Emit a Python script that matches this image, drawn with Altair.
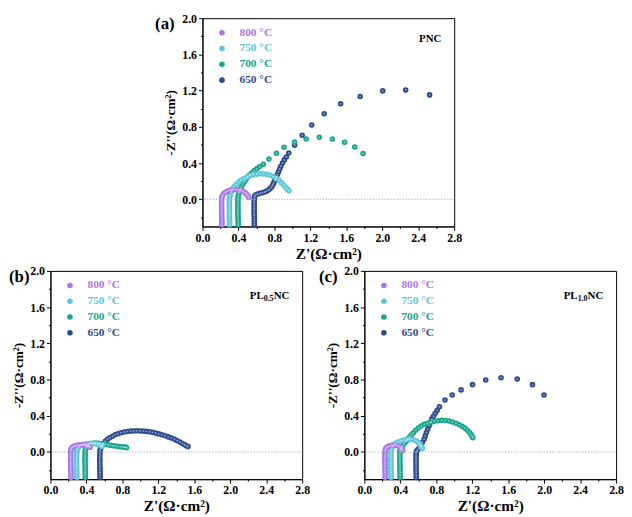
import altair as alt
import pandas as pd

FONT = "Liberation Serif"
TEMPS = ["800 °C", "750 °C", "700 °C", "650 °C"]
COLORS = ["#a878e8", "#5cc6d8", "#17a58c", "#2d4a8f"]

X_TICKS = [0.0, 0.2, 0.4, 0.6, 0.8, 1.0, 1.2, 1.4, 1.6, 1.8, 2.0, 2.2, 2.4, 2.6, 2.8]
Y_TICKS = [-0.2, 0.0, 0.2, 0.4, 0.6, 0.8, 1.0, 1.2, 1.4, 1.6, 1.8, 2.0]

TAIL_Y = [-0.28, -0.255, -0.23, -0.205, -0.18, -0.155, -0.13, -0.105, -0.08, -0.055, -0.03, -0.005]

# ---------------- panel (a) PNC ----------------
a800_x = [0.216, 0.216, 0.215, 0.215, 0.214, 0.214, 0.213, 0.213, 0.213, 0.213, 0.213, 0.213,
          0.215, 0.222, 0.235, 0.252, 0.272, 0.295, 0.32, 0.345, 0.37, 0.395, 0.42, 0.443, 0.463, 0.48, 0.495, 0.507, 0.515]
a800_y = TAIL_Y + [0.02, 0.04, 0.06, 0.075, 0.087, 0.096, 0.102, 0.106, 0.107, 0.105, 0.1, 0.092, 0.081, 0.068, 0.053, 0.037, 0.02]

a750_x = [0.302, 0.302, 0.301, 0.301, 0.3, 0.3, 0.3, 0.299, 0.299, 0.299, 0.299, 0.3,
          0.302, 0.308, 0.318, 0.332, 0.35, 0.372, 0.398, 0.428, 0.46, 0.495, 0.53, 0.567, 0.605, 0.643, 0.68,
          0.718, 0.755, 0.79, 0.822, 0.852, 0.878, 0.902, 0.925, 0.945, 0.962]
a750_y = TAIL_Y + [0.02, 0.048, 0.078, 0.108, 0.137, 0.163, 0.188, 0.21, 0.23, 0.247, 0.261, 0.271, 0.278, 0.281, 0.28,
                   0.275, 0.265, 0.25, 0.231, 0.208, 0.183, 0.158, 0.134, 0.112, 0.094]

a700_x = [0.398, 0.397, 0.397, 0.396, 0.396, 0.395, 0.395, 0.395, 0.394, 0.394, 0.394, 0.395,
          0.396, 0.4, 0.406, 0.414, 0.424, 0.436, 0.45, 0.466, 0.484, 0.504, 0.526, 0.55, 0.575, 0.602, 0.635,
          0.676, 0.739, 0.823, 0.907, 1.024, 1.153, 1.30, 1.445, 1.58, 1.694, 1.786]
a700_y = TAIL_Y + [0.02, 0.045, 0.07, 0.095, 0.12, 0.145, 0.17, 0.195, 0.22, 0.245, 0.27, 0.293, 0.315, 0.337, 0.36,
                   0.388, 0.444, 0.509, 0.574, 0.632, 0.665, 0.684, 0.665, 0.629, 0.578, 0.505]

a650_x = [0.577, 0.577, 0.576, 0.576, 0.576, 0.575, 0.575, 0.575, 0.575, 0.575, 0.575, 0.576,
          0.577, 0.582, 0.595, 0.615, 0.64, 0.665, 0.69, 0.713, 0.735, 0.752, 0.768, 0.78, 0.79, 0.8, 0.81,
          0.822, 0.834, 0.846, 0.858, 0.872, 0.89, 0.91, 0.933, 0.96, 1.025, 1.109, 1.215, 1.354, 1.537, 1.754,
          2.005, 2.26, 2.526]
a650_y = TAIL_Y + [0.018, 0.036, 0.05, 0.058, 0.066, 0.073, 0.08, 0.09, 0.103, 0.118, 0.135, 0.155, 0.175, 0.198, 0.222,
                   0.248, 0.275, 0.305, 0.335, 0.365, 0.4, 0.435, 0.468, 0.512, 0.598, 0.707, 0.82, 0.944, 1.055, 1.136,
                   1.197, 1.206, 1.153]

# ---------------- panel (b) PL0.5NC ----------------
b800_x = [0.228, 0.228, 0.227, 0.227, 0.226, 0.226, 0.225, 0.225, 0.225, 0.225, 0.225, 0.225,
          0.226, 0.232, 0.243, 0.258, 0.276, 0.296, 0.318, 0.34, 0.362, 0.384, 0.404, 0.42, 0.433, 0.442]
b800_y = TAIL_Y + [0.02, 0.038, 0.052, 0.062, 0.07, 0.075, 0.079, 0.081, 0.081, 0.078, 0.073, 0.066, 0.058, 0.05]

b750_x = [0.293, 0.293, 0.292, 0.292, 0.292, 0.291, 0.291, 0.291, 0.291, 0.291, 0.291, 0.292,
          0.293, 0.3, 0.312, 0.328, 0.348, 0.37, 0.394, 0.42, 0.446, 0.472, 0.498, 0.522, 0.544, 0.562, 0.576]
b750_y = TAIL_Y + [0.02, 0.04, 0.056, 0.068, 0.077, 0.083, 0.088, 0.091, 0.093, 0.093, 0.091, 0.087, 0.08, 0.071, 0.062]

b700_x = [0.388, 0.388, 0.387, 0.387, 0.386, 0.386, 0.385, 0.385, 0.385, 0.385, 0.385, 0.386,
          0.387, 0.392, 0.401, 0.414, 0.43, 0.45, 0.474, 0.5, 0.528, 0.556, 0.584, 0.612, 0.64, 0.668, 0.696,
          0.724, 0.752, 0.78, 0.806, 0.826, 0.84, 0.846]
b700_y = TAIL_Y + [0.02, 0.042, 0.06, 0.075, 0.086, 0.093, 0.097, 0.098, 0.097, 0.094, 0.09, 0.085, 0.08, 0.075, 0.07,
                   0.066, 0.062, 0.059, 0.056, 0.054, 0.052, 0.048]

b650_x = [0.552, 0.552, 0.551, 0.551, 0.55, 0.55, 0.549, 0.549, 0.549, 0.549, 0.549, 0.55,
          0.552, 0.56, 0.572, 0.59, 0.61, 0.635, 0.66, 0.69, 0.72, 0.75, 0.785, 0.82, 0.855, 0.89, 0.925,
          0.96, 0.995, 1.03, 1.065, 1.10, 1.135, 1.17, 1.205, 1.24, 1.275, 1.31, 1.345, 1.38, 1.41, 1.44,
          1.465, 1.49, 1.51, 1.53]
b650_y = TAIL_Y + [0.02, 0.045, 0.07, 0.095, 0.118, 0.14, 0.158, 0.175, 0.19, 0.202, 0.213, 0.221, 0.227, 0.231, 0.233,
                   0.234, 0.233, 0.231, 0.228, 0.223, 0.217, 0.209, 0.2, 0.19, 0.179, 0.167, 0.154, 0.14, 0.125, 0.11,
                   0.095, 0.082, 0.07, 0.06]

# ---------------- panel (c) PL1.0NC ----------------
c800_x = [0.232, 0.232, 0.231, 0.231, 0.23, 0.23, 0.229, 0.229, 0.229, 0.229, 0.229, 0.23,
          0.231, 0.238, 0.25, 0.266, 0.285, 0.306, 0.328, 0.35, 0.372, 0.392, 0.408, 0.42, 0.428]
c800_y = TAIL_Y + [0.02, 0.038, 0.053, 0.063, 0.07, 0.074, 0.075, 0.074, 0.069, 0.06, 0.047, 0.032, 0.016]

c750_x = [0.297, 0.297, 0.296, 0.296, 0.296, 0.295, 0.295, 0.295, 0.295, 0.295, 0.295, 0.296,
          0.297, 0.305, 0.318, 0.335, 0.355, 0.38, 0.41, 0.44, 0.47, 0.50, 0.53, 0.56, 0.585, 0.605, 0.62, 0.635, 0.645]
c750_y = TAIL_Y + [0.02, 0.045, 0.065, 0.085, 0.1, 0.113, 0.125, 0.133, 0.138, 0.14, 0.138, 0.13, 0.118, 0.1, 0.08, 0.06, 0.04]

c700_x = [0.398, 0.398, 0.397, 0.397, 0.396, 0.396, 0.395, 0.395, 0.395, 0.395, 0.395, 0.396,
          0.397, 0.405, 0.418, 0.432, 0.447, 0.465, 0.485, 0.505, 0.525, 0.545, 0.57, 0.60, 0.63, 0.665, 0.70,
          0.74, 0.78, 0.82, 0.86, 0.90, 0.94, 0.98, 1.02, 1.055, 1.09, 1.12, 1.145, 1.168, 1.185, 1.198, 1.205]
c700_y = TAIL_Y + [0.02, 0.04, 0.06, 0.08, 0.1, 0.12, 0.145, 0.168, 0.19, 0.213, 0.24, 0.265, 0.288, 0.305, 0.318,
                   0.33, 0.34, 0.346, 0.35, 0.348, 0.342, 0.332, 0.318, 0.302, 0.282, 0.262, 0.24, 0.218, 0.195, 0.175,
                   0.158]

c650_x = [0.577, 0.577, 0.576, 0.576, 0.576, 0.575, 0.575, 0.575, 0.575, 0.575, 0.575, 0.576,
          0.58, 0.593, 0.61, 0.628, 0.645, 0.665, 0.677, 0.69, 0.705, 0.72, 0.735, 0.75, 0.768, 0.787, 0.81,
          0.835, 0.897, 0.977, 1.076, 1.203, 1.35, 1.52, 1.70, 1.87, 1.998]
c650_y = TAIL_Y + [0.01, 0.025, 0.045, 0.07, 0.105, 0.14, 0.178, 0.215, 0.252, 0.29, 0.327, 0.363, 0.395, 0.425, 0.46,
                   0.5, 0.575, 0.63, 0.686, 0.744, 0.796, 0.82, 0.805, 0.744, 0.63]

W, H = 255, 211

MINOR = "abs(round(datum.value * 10)) % 4 != 0"
LABEL_EXPR = "abs(round(datum.value * 10)) % 4 == 0 ? format(datum.value, '.1f') : ''"
TICK_SIZE = {"condition": {"test": MINOR, "value": 2}, "value": 4}
LEGEND_COLOR = ("datum.value == '800 °C' ? '%s' : datum.value == '750 °C' ? '%s' : "
                "datum.value == '700 °C' ? '%s' : '%s'") % tuple(COLORS)
X_TITLE = "Z'(Ω·cm²)"
Y_TITLE = "-Z''(Ω·cm²)"


def frame(series):
    rows = []
    for temp, xs, ys in series:
        for x, y in zip(xs, ys):
            rows.append({"T": temp, "x": x, "y": y})
    return pd.DataFrame(rows)


X_AXIS = alt.Axis(values=X_TICKS, labelExpr=LABEL_EXPR, tickSize=TICK_SIZE, labelFlush=False,
                  labelOverlap=False, labelPadding=2, titlePadding=3, titleFontSize=15.5)
Y_AXIS = alt.Axis(values=Y_TICKS, labelExpr=LABEL_EXPR, tickSize=TICK_SIZE,
                  labelOverlap=False, labelPadding=2, titlePadding=4, titleFontSize=13.5)


def xenc():
    return alt.X("x:Q", title=X_TITLE, scale=alt.Scale(domain=[0, 2.8], nice=False, zero=False), axis=X_AXIS)


def yenc():
    return alt.Y("y:Q", title=Y_TITLE, scale=alt.Scale(domain=[-0.3, 2.0], nice=False, zero=False), axis=Y_AXIS)


def panel(series, tag, tag_dx, name_parts):
    df = frame(series)
    legend = alt.Legend(orient="none", legendX=14, legendY=9, title=None, symbolType="circle",
                        symbolSize=32, labelFont=FONT, labelFontWeight="bold", labelFontSize=11.5,
                        labelColor={"expr": LEGEND_COLOR}, rowPadding=3, labelOffset=12, padding=0)
    pts = alt.Chart(df).mark_point(filled=True, size=32, opacity=1, strokeWidth=0).encode(
        x=xenc(), y=yenc(),
        color=alt.Color("T:N", scale=alt.Scale(domain=TEMPS, range=COLORS), legend=legend),
    )
    shine = alt.Chart(df).mark_point(filled=True, size=4, opacity=0.45, color="white", strokeWidth=0).encode(
        x=xenc(), y=yenc())
    zero = alt.Chart(pd.DataFrame({"y": [0.0]})).mark_rule(
        color="#9aa6c0", strokeDash=[1.5, 1.5], strokeWidth=0.8).encode(y=yenc())
    tagc = alt.Chart(pd.DataFrame({"t": [tag]})).mark_text(
        align="left", baseline="top", font=FONT, fontWeight="bold", fontSize=17, color="black").encode(
        x=alt.value(tag_dx), y=alt.value(-2), text="t:N")
    layers = [pts, shine, zero, tagc]
    for txt, size, dx, dy in name_parts:
        layers.append(alt.Chart(pd.DataFrame({"t": [txt]})).mark_text(
            align="right", baseline="alphabetic", font=FONT, fontWeight="bold", fontSize=size, color="black").encode(
            x=alt.value(W - dx), y=alt.value(dy), text="t:N"))
    return alt.layer(*layers).properties(width=W, height=H,
                                         view=alt.ViewBackground(stroke="black", strokeWidth=1))


pa = panel([("650 °C", a650_x, a650_y), ("700 °C", a700_x, a700_y),
            ("750 °C", a750_x, a750_y), ("800 °C", a800_x, a800_y)],
           "(a)", -48, [("PNC", 11, 13, 24)])
pb = panel([("650 °C", b650_x, b650_y), ("700 °C", b700_x, b700_y),
            ("750 °C", b750_x, b750_y), ("800 °C", b800_x, b800_y)],
           "(b)", -42, [("NC", 11, 13, 28), ("0.5", 8, 29, 30.5), ("PL", 11, 39, 28)])
pc = panel([("650 °C", c650_x, c650_y), ("700 °C", c700_x, c700_y),
            ("750 °C", c750_x, c750_y), ("800 °C", c800_x, c800_y)],
           "(c)", -46, [("NC", 11, 13, 28), ("1.0", 8, 29, 30.5), ("PL", 11, 39, 28)])

spacer = alt.Chart(pd.DataFrame({"v": [0]})).mark_text(text="").encode(
    x=alt.value(0), y=alt.value(0)).properties(width=104, height=1,
                                               view=alt.ViewBackground(stroke="transparent"))

top = alt.hconcat(spacer, pa, spacing=0).resolve_scale(color="independent").resolve_legend(color="independent")
bottom = alt.hconcat(pb, pc, spacing=8).resolve_scale(color="independent").resolve_legend(color="independent")

chart = alt.vconcat(top, bottom, spacing=2).resolve_scale(color="independent").resolve_legend(
    color="independent").properties(padding={"left": 0, "top": 0, "right": 0, "bottom": 0}).configure_view(
    stroke="black", strokeWidth=1).configure_axis(
    domainColor="black", tickColor="black", labelColor="black", titleColor="black",
    labelFont=FONT, titleFont=FONT, labelFontWeight="bold", titleFontWeight="bold",
    labelFontSize=12, titleFontSize=14, grid=False, domainWidth=1, tickWidth=1, labelOverlap=False)

chart.save("out.html", embed_options={"renderer": "svg", "actions": False})
